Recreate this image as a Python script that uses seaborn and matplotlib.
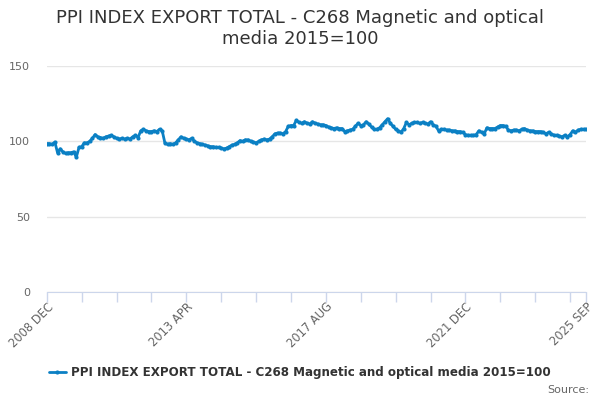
import pandas as pd
import matplotlib
matplotlib.use("Agg")
import matplotlib.pyplot as plt
import seaborn as sns

# DATA (monthly, 2008 DEC .. 2025 SEP)

TITLE = "PPI INDEX EXPORT TOTAL - C268 Magnetic and optical\nmedia 2015=100"
SERIES_NAME = "PPI INDEX EXPORT TOTAL - C268 Magnetic and optical media 2015=100"

index_values = [
    98.5, 98.5, 98.0, 99.5, 92.5, 95.0, 93.0, 92.0, 92.5, 92.5,
    93.0, 89.5, 96.0, 96.5, 99.0, 99.0, 100.0, 102.0, 104.5, 103.0,
    102.5, 102.0, 103.0, 103.5, 104.0, 103.0, 102.0, 101.5, 102.0, 101.5,
    102.0, 101.5, 103.0, 104.0, 102.5, 107.0, 108.0, 107.0, 106.5, 106.5,
    107.0, 106.5, 108.0, 107.0, 99.0, 98.0, 98.5, 98.0, 99.0, 101.0,
    103.0, 102.0, 101.5, 101.0, 102.0, 100.0, 99.0, 98.5, 98.0, 97.5,
    97.0, 96.5, 96.5, 96.0, 96.0, 95.5, 95.0, 95.5, 96.5, 97.5,
    98.0, 99.0, 100.5, 100.0, 101.0, 101.0, 100.0, 99.5, 99.0, 100.0,
    101.0, 101.5, 101.0, 101.5, 103.0, 105.0, 105.5, 105.5, 105.0, 106.5,
    110.0, 110.5, 110.5, 114.0, 112.5, 112.0, 113.0, 112.0, 111.5, 113.0,
    112.0, 111.5, 111.0, 111.0, 110.5, 109.5, 109.0, 108.5, 109.0, 108.5,
    108.5, 106.5, 107.0, 107.5, 108.0, 110.0, 112.0, 110.5, 111.0, 113.0,
    111.5, 109.5, 108.0, 108.0, 109.0, 111.0, 113.0, 115.0, 112.0, 110.0,
    108.0, 107.0, 106.0, 108.5, 112.5, 111.0, 112.0, 112.5, 112.5, 112.0,
    112.5, 112.0, 111.5, 113.0, 111.0, 110.0, 107.0, 108.0, 108.0, 107.5,
    107.5, 107.0, 107.0, 106.5, 106.5, 106.0, 104.5, 104.0, 104.0, 104.0,
    104.5, 107.0, 106.0, 105.0, 109.0, 108.5, 108.5, 108.5, 109.5, 110.5,
    110.5, 110.0, 107.5, 107.0, 107.5, 107.5, 107.0, 108.0, 108.5, 107.5,
    107.0, 107.0, 106.5, 106.5, 106.5, 106.0, 105.0, 106.0, 105.0, 104.0,
    104.0, 103.5, 103.0, 104.0, 103.0, 104.5, 107.0, 106.0, 107.5, 108.0,
    108.0, 108.0,
]

month_labels = [p.strftime("%Y %b").upper()
                for p in pd.period_range("2008-12", "2025-09", freq="M")]

label_months = ["2008 DEC", "2013 APR", "2017 AUG", "2021 DEC", "2025 SEP"]
y_ticks = [0, 50, 100, 150]

LINE_COLOR = "#0b80c4"
TEXT_DARK = "#333333"
TEXT_GREY = "#666666"
AXIS_COLOR = "#ccd6eb"
GRID_COLOR = "#e6e6e6"


def main():
    df = pd.DataFrame({"month": month_labels, "value": index_values})
    df["pos"] = range(len(df))

    sns.set_style("white")
    plt.rcParams["font.family"] = ["DejaVu Sans"]

    fig = plt.figure(figsize=(6, 4), dpi=100)
    ax = fig.add_axes([0.078, 0.27, 0.899, 0.565])

    sns.lineplot(data=df, x="pos", y="value", ax=ax, color=LINE_COLOR,
                 linewidth=2.0, marker="o", markersize=3.0,
                 markeredgewidth=0, label=SERIES_NAME, legend=False)

    n = len(df)
    ax.set_xlim(0, n - 1)
    ax.set_ylim(0, 150)

    # y axis
    ax.set_yticks(y_ticks)
    ax.set_yticklabels([str(t) for t in y_ticks], color=TEXT_GREY, fontsize=8)
    ax.tick_params(axis="y", length=0, pad=12)
    ax.grid(axis="y", color=GRID_COLOR, linewidth=1)
    ax.set_axisbelow(True)

    # x axis: minor ticks every 13 months, labels every 52
    minor = list(range(0, n, 13)) + [n - 1]
    ax.set_xticks(minor, minor=True)
    label_pos = [month_labels.index(m) for m in label_months]
    ax.set_xticks(label_pos)
    ax.set_xticklabels(label_months, rotation=45, ha="right",
                       rotation_mode="anchor", color=TEXT_GREY, fontsize=8.3)
    ax.tick_params(axis="x", which="both", bottom=True, length=7,
                   color=AXIS_COLOR, width=1, direction="out", pad=-1)

    for side in ["top", "right", "left"]:
        ax.spines[side].set_visible(False)
    ax.spines["bottom"].set_color(AXIS_COLOR)
    ax.spines["bottom"].set_zorder(0)

    ax.set_xlabel("")
    ax.set_ylabel("")

    fig.suptitle(TITLE, x=0.5, y=0.978, fontsize=13, color=TEXT_DARK,
                 va="top", linespacing=1.2)

    handles, labels = ax.get_legend_handles_labels()
    leg = fig.legend(handles, labels, loc="center", bbox_to_anchor=(0.5, 0.068),
                     frameon=False, fontsize=8.6, handlelength=1.4,
                     handletextpad=0.5, markerscale=1.0)
    for t in leg.get_texts():
        t.set_color(TEXT_DARK)
        t.set_fontweight("bold")

    fig.text(0.982, 0.025, "Source:", ha="right", va="center",
             fontsize=8, color=TEXT_GREY)

    fig.savefig("out.png", dpi=100)
    plt.close(fig)


if __name__ == "__main__":
    main()
